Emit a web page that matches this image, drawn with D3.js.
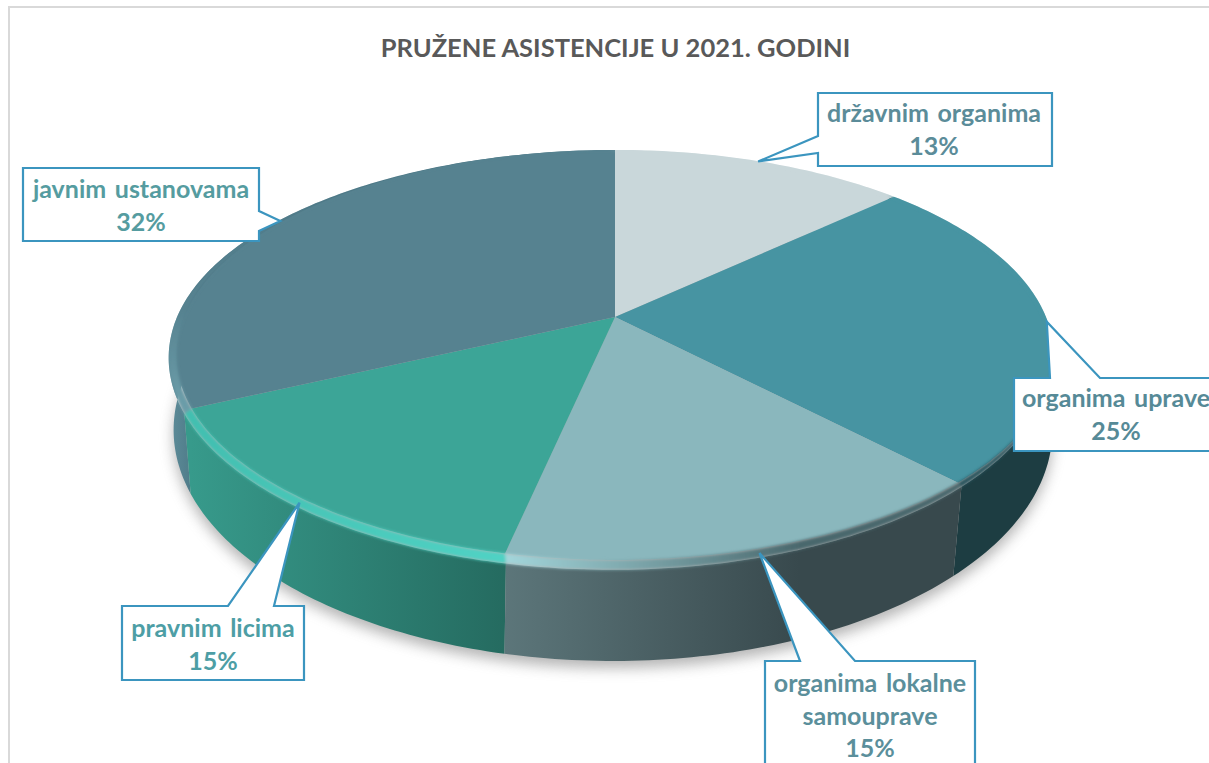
<!DOCTYPE html>
<html><head><meta charset="utf-8">
<style>html,body{margin:0;padding:0;background:#fff;overflow:hidden}svg{display:block}
text{font-family:Lato,"Open Sans",sans-serif;text-anchor:middle}</style>
<script src="https://cdn.jsdelivr.net/npm/d3@7/dist/d3.min.js"></script></head>
<body><svg id="c" width="1209" height="763"></svg>
<script>
const title = "PRUŽENE ASISTENCIJE U 2021. GODINI";
const categories = ["državnim organima","organima uprave","organima lokalne samouprave","pravnim licima","javnim ustanovama"];
const values = [13.0,24.9,15.45,14.65,32.0];
const labelLines = [["državnim organima"],["organima uprave"],["organima lokalne","samouprave"],["pravnim licima"],["javnim ustanovama"]];
const faceColors = ["#c9d7da","#4794a2","#8ab7bd","#3ca597","#568290"];
const labelColors = ["#5b8c99","#568a97","#5b8f9b","#4d9ea5","#559ca0"];
// side gradient: [x1,y1,x2,y2,colour1,colour2]
const sideGrad = [[700,0,900,0,"#c9d7da","#c9d7da"],[950,0,1050,0,"#1d3d42","#1d3d42"],[505,0,800,0,"#5c767a","#38494d"],[190,0,505,0,"#379a8b","#256b60"],[170,0,200,0,"#5d8c99","#4a7583"]];
const bevelGrad = [[700,0,900,0,"#c9d7da","#c9d7da"],[0,350,0,450,"#4794a2","#25525c"],[505,0,800,0,"#a3d6db","#4a686d"],[190,0,505,0,"#42bfb0","#50d2c4"],[0,310,0,400,"#568290","#6b9ca8"]];
// callout boxes: [left, top, right, bottom], wedge base points, text centre and first baseline
const boxes = [[818,93,1052,166],[1014,378,1230,451],[765,661,975,790],[122,606,304,680],[23,168,259,241]];
const wedgeBase = [[[818,153],[818,136]],[[1050,378],[1100,378]],[[800,661],[855,661]],[[228,606],[274,606]],[[259,211],[259,231]]];
const textAt = [[934,122],[1116,407],[870,692],[213,637],[141,198]];

const F = {x0:615,y0:317,a:198,aB:198,b:431,bL:431,k:.185,d:0};    // top face
const B = {x0:613,y0:317,a:204,aB:199,b:431,bL:436,k:.193,d:.01}; // outer rim
const L = {x0:613,y0:390.7,a:224.3,aB:224.3,b:433,bL:433,k:.17,d:0}; // lower ring
const ring = (p,t0)=>{const t=t0-p.d,c=Math.cos(t),w=1+p.k*c,s=Math.sin(t);return [p.x0+(s<0?p.bL:p.b)*s/w,p.y0-(c>0?p.aB:p.a)*c/w];};
const arcPts = (p,a0,a1)=>{const n=Math.max(4,Math.ceil((a1-a0)*60));return d3.range(n+1).map(i=>ring(p,a0+(a1-a0)*i/n));};
const line = d3.line();
const arcs = d3.pie().sort(null)(values);

const svg = d3.select("#c");
const defs = svg.append("defs");
defs.append("filter").attr("id","sh").attr("x","-10%").attr("y","-10%").attr("width","120%").attr("height","125%")
  .append("feGaussianBlur").attr("stdDeviation",7);
defs.append("filter").attr("id","bv").attr("x","-5%").attr("y","-5%").attr("width","110%").attr("height","110%")
  .append("feGaussianBlur").attr("stdDeviation",1.5);
function grad(id,g){const e=defs.append("linearGradient").attr("id",id).attr("gradientUnits","userSpaceOnUse")
  .attr("x1",g[0]).attr("y1",g[1]).attr("x2",g[2]).attr("y2",g[3]);
  e.append("stop").attr("offset",0).attr("stop-color",g[4]);e.append("stop").attr("offset",1).attr("stop-color",g[5]);}
sideGrad.forEach((g,i)=>grad("s"+i,g));
bevelGrad.forEach((g,i)=>grad("b"+i,g));
const clip = defs.append("clipPath").attr("id","hull");
clip.append("path").attr("d",line(arcPts(F,0,2*Math.PI))+"Z");
clip.append("path").attr("d",line(arcPts(B,0,2*Math.PI))+"Z");
arcs.forEach(d=>clip.append("path").attr("d",line(arcPts(B,d.startAngle,d.endAngle).concat(arcPts(L,d.startAngle,d.endAngle).reverse()))+"Z"));

// frame
svg.append("path").attr("d","M9,763V7H1209").attr("fill","none").attr("stroke","#d9d9d9").attr("stroke-width",2);
svg.append("text").attr("x",615.5).attr("y",56.5).attr("font-size",25.5).attr("font-weight",700).attr("fill","#595959").text(title);

// shadow
svg.append("path").attr("d",line(arcPts(L,0,2*Math.PI))+"Z").attr("transform","translate(0,7)")
  .attr("fill","#777").attr("opacity",.55).attr("filter","url(#sh)");

// sides, back to front
[0,4,1,3,2].forEach(i=>{const d=arcs[i];
  svg.append("path").attr("d",line(arcPts(B,d.startAngle,d.endAngle).concat(arcPts(L,d.startAngle,d.endAngle).reverse()))+"Z")
   .attr("fill",`url(#s${i})`);});
// faces
arcs.forEach((d,i)=>svg.append("path")
  .attr("d",line([[F.x0,F.y0]].concat(arcPts(F,d.startAngle,d.endAngle)))+"Z")
  .attr("fill",faceColors[i]));
// rim, softly over the edge of the faces
const rimB = svg.append("g").attr("clip-path","url(#hull)").append("g").attr("filter","url(#bv)");
arcs.forEach((d,i)=>rimB.append("path")
  .attr("d",line(arcPts(B,d.startAngle,d.endAngle).concat(arcPts(F,d.startAngle,d.endAngle).reverse()))+"Z")
  .attr("fill",`url(#b${i})`));

// callouts
arcs.forEach((d,i)=>{
  const m=(d.startAngle+d.endAngle)/2, a=ring(F,m), b=ring(B,m), tip=[(a[0]+b[0])/2,(a[1]+b[1])/2];
  const [l,t,r,bt]=boxes[i], [p,q]=wedgeBase[i];
  let pts;
  if(p[0]===q[0] && p[0]===l) pts=[[l,t],[r,t],[r,bt],[l,bt],p,tip,q];
  else if(p[0]===q[0]) pts=[[l,t],[r,t],p,tip,q,[r,bt],[l,bt]];
  else pts=[[l,t],p,tip,q,[r,t],[r,bt],[l,bt]];
  svg.append("path").attr("d",line(pts)+"Z").attr("fill","#fff").attr("stroke","#3b95bf").attr("stroke-width",2.2).attr("stroke-linejoin","miter");
  const lines=labelLines[i].concat([Math.round(d.value)+"%"]);
  lines.forEach((s,j)=>svg.append("text").attr("x",textAt[i][0]).attr("y",textAt[i][1]+j*32.5)
    .attr("font-size",25).attr("font-weight",700).attr("word-spacing",2.5).attr("fill",labelColors[i]).text(s));
});
</script></body></html>
